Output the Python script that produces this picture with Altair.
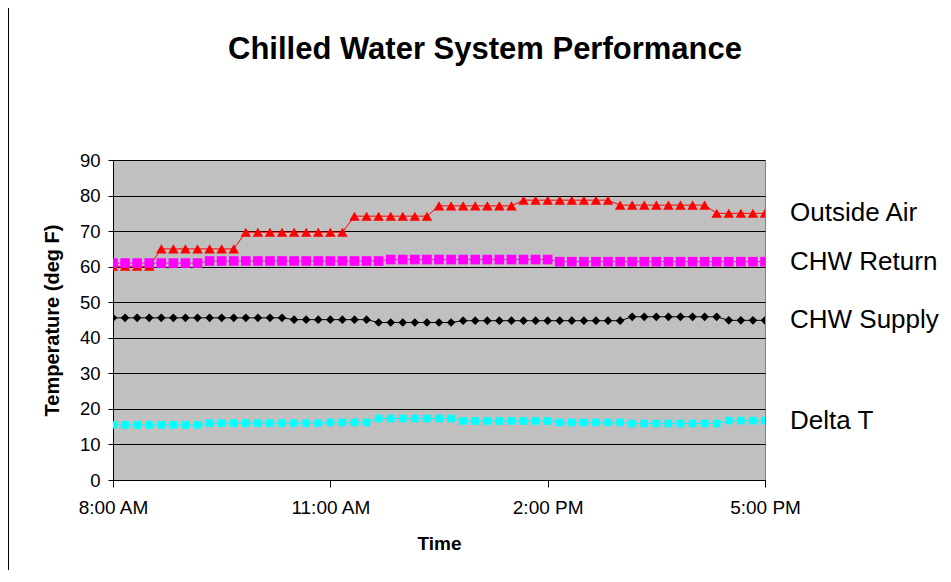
import altair as alt
import pandas as pd

TITLE = "Chilled Water System Performance"
X_TITLE = "Time"
Y_TITLE = "Temperature (deg F)"
SERIES = ["Outside Air", "CHW Return", "CHW Supply", "Delta T"]
COLORS = ["#FF0000", "#FF00FF", "#000000", "#00FFFF"]
SHAPES = ["triangle-up", "square", "diamond", "square"]
SIZES = [110, 58, 64, 58]

# 10-minute readings from 8:00 AM to 5:00 PM
TIMES = pd.date_range("2000-01-01 08:00", "2000-01-01 17:00", freq="10min").strftime("%Y-%m-%dT%H:%M:%S").tolist()

OUTSIDE_AIR = [60.1, 60.1, 60.1, 60.1,
               65.0, 65.0, 65.0, 65.0, 65.0, 65.0, 65.0,
               69.7, 69.7, 69.7, 69.7, 69.7, 69.7, 69.7, 69.7, 69.7,
               74.2, 74.2, 74.2, 74.2, 74.2, 74.2, 74.2,
               77.1, 77.1, 77.1, 77.1, 77.1, 77.1, 77.1,
               78.7, 78.7, 78.7, 78.7, 78.7, 78.7, 78.7, 78.7,
               77.3, 77.3, 77.3, 77.3, 77.3, 77.3, 77.3, 77.3,
               75.0, 75.0, 75.0, 75.0, 75.0]
CHW_RETURN = [61.0, 61.0, 61.0, 61.0, 61.0, 61.0, 61.0, 61.0,
              61.6, 61.6, 61.6, 61.6, 61.6, 61.6, 61.6, 61.6, 61.6, 61.6, 61.6, 61.6, 61.6, 61.6, 61.6,
              62.0, 62.0, 62.0, 62.0, 62.0, 62.0, 62.0, 62.0, 62.0, 62.0, 62.0, 62.0, 62.0, 62.0,
              61.4, 61.4, 61.4, 61.4, 61.4, 61.4, 61.4, 61.4, 61.4, 61.4, 61.4, 61.4, 61.4, 61.4,
              61.4, 61.4, 61.4, 61.4]
CHW_SUPPLY = [45.6, 45.6, 45.6, 45.6, 45.6, 45.6, 45.6, 45.6, 45.6, 45.6, 45.6, 45.6, 45.6, 45.6, 45.6,
              45.1, 45.1, 45.1, 45.1, 45.1, 45.1, 45.1,
              44.3, 44.3, 44.3, 44.3, 44.3, 44.3, 44.3,
              44.8, 44.8, 44.8, 44.8, 44.8, 44.8, 44.8, 44.8, 44.8, 44.8, 44.8, 44.8, 44.8, 44.8,
              45.9, 45.9, 45.9, 45.9, 45.9, 45.9, 45.9, 45.9,
              44.9, 44.9, 44.9, 44.9]
DELTA_T = [15.5, 15.5, 15.5, 15.5, 15.5, 15.5, 15.5, 15.5,
           16.0, 16.0, 16.0, 16.0, 16.0, 16.0, 16.0, 16.0, 16.0, 16.0, 16.2, 16.2, 16.2, 16.2,
           17.3, 17.3, 17.3, 17.3, 17.3, 17.3, 17.3,
           16.6, 16.6, 16.6, 16.6, 16.6, 16.6, 16.6, 16.6,
           16.2, 16.2, 16.2, 16.2, 16.2, 16.2,
           15.9, 15.9, 15.9, 15.9, 15.9, 15.9, 15.9, 15.9,
           16.7, 16.7, 16.7, 16.7]

VALUES = [OUTSIDE_AIR, CHW_RETURN, CHW_SUPPLY, DELTA_T]
rows = []
for name, vals in zip(SERIES, VALUES):
    for t, v in zip(TIMES, vals):
        rows.append({"time": t, "series": name, "value": v})
df = pd.DataFrame(rows)
last = pd.DataFrame([{"time": TIMES[-1], "series": n, "value": v[-1]} for n, v in zip(SERIES, VALUES)])

FONT = "Liberation Sans"

x_scale = alt.Scale(domain=[alt.DateTime(year=2000, month=1, date=1, hours=8),
                            alt.DateTime(year=2000, month=1, date=1, hours=17)], nice=False)
y_scale = alt.Scale(domain=[0, 90], nice=False)
color = alt.Color("series:N", scale=alt.Scale(domain=SERIES, range=COLORS), legend=None)

x_axis = alt.Axis(values=[alt.DateTime(year=2000, month=1, date=1, hours=h) for h in [8, 11, 14, 17]],
                  format="%-I:%M %p", grid=False, tickSize=7, labelPadding=11, labelFlush=False,
                  labelOverlap=False, labelFontSize=19, titleFontSize=19, titleFontWeight="bold",
                  titlePadding=17)
y_axis = alt.Axis(values=list(range(0, 91, 10)), tickSize=5, labelPadding=8, labelOverlap=False,
                  labelFontSize=18.5, titleFontSize=20, titleFontWeight="bold", titlePadding=17)

x_enc = alt.X("time:T", scale=x_scale, title=X_TITLE, axis=x_axis)
y_enc = alt.Y("value:Q", scale=y_scale, title=Y_TITLE, axis=y_axis)

lines = alt.Chart(df).mark_line(strokeWidth=1, clip=True).encode(x=x_enc, y=y_enc, color=color, detail="series:N")
points = alt.Chart(df).mark_point(filled=True, opacity=1, clip=True).encode(
    x=x_enc, y=y_enc, color=color,
    shape=alt.Shape("series:N", scale=alt.Scale(domain=SERIES, range=SHAPES), legend=None),
    size=alt.Size("series:N", scale=alt.Scale(domain=SERIES, range=SIZES), legend=None),
)
labels = alt.Chart(last).mark_text(align="left", baseline="middle", dx=25, fontSize=26, font=FONT, color="black").encode(
    x=x_enc, y=y_enc, text="series:N")

title = alt.Chart(pd.DataFrame({"t": [TITLE]})).mark_text(
    fontSize=31, fontWeight="bold", font=FONT, color="black", align="center", baseline="middle"
).encode(x=alt.value(372), y=alt.value(-110), text="t:N")

border = alt.Chart(pd.DataFrame({"a": [0]})).mark_rule(color="black", strokeWidth=1).encode(
    x=alt.value(-104.5), y=alt.value(-160), y2=alt.value(420))

chart = alt.layer(lines, points, labels, title, border).properties(
    width=652, height=320,
    autosize=alt.AutoSizeParams(type="none"),
    padding={"left": 105, "top": 152, "right": 178, "bottom": 90},
    background="white",
).configure_view(fill="#C0C0C0", stroke="#808080", strokeWidth=1).configure_axis(
    domainColor="black", tickColor="black", gridColor="black", gridWidth=1,
    labelFont=FONT, titleFont=FONT, labelColor="black", titleColor="black",
    labelOverlap=False,
)

chart.save("out.html", embed_options={"renderer": "svg", "actions": False})
